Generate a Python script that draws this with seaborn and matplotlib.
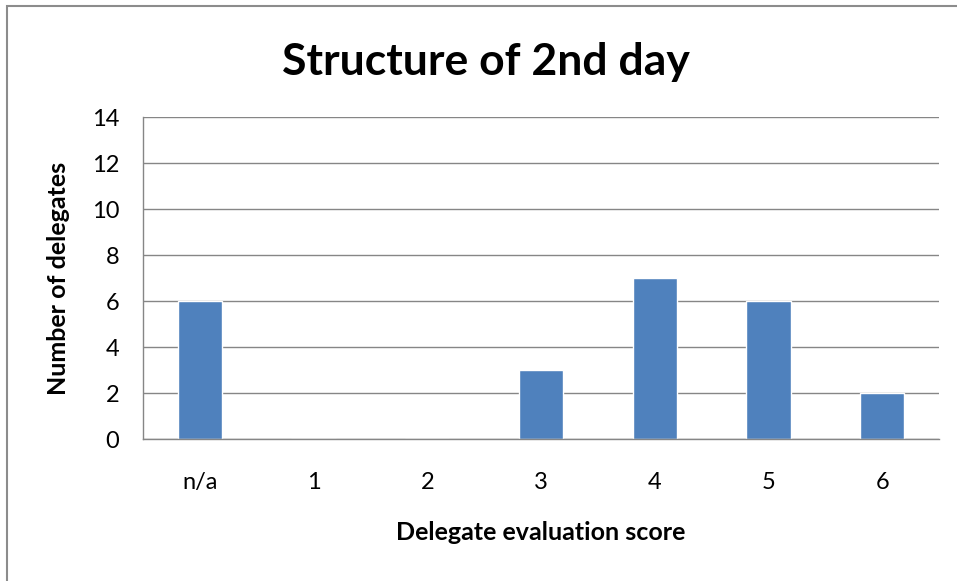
import matplotlib
matplotlib.use("Agg")
import matplotlib.pyplot as plt
import matplotlib.patches as mpatches
import numpy as np
import pandas as pd
import seaborn as sns

# chart data
scores = ["n/a", "1", "2", "3", "4", "5", "6"]
delegates = [6, 0, 0, 3, 7, 6, 2]
y_ticks = [0, 2, 4, 6, 8, 10, 12, 14]

df = pd.DataFrame({"score": scores, "count": delegates})

sns.set_style("white")
plt.rcParams["font.family"] = ["Lato", "DejaVu Sans"]
plt.rcParams["text.color"] = "black"
plt.rcParams["axes.labelcolor"] = "black"

fig = plt.figure(figsize=(9.57, 5.81), dpi=100)
ax = fig.add_axes([0.1494, 0.2444, 0.8318, 0.5542])

sns.barplot(data=df, x="score", y="count", color="#4F81BD", saturation=1,
            width=0.39, ax=ax)

ax.set_ylim(0, 14)
ax.set_xlim(-0.5, len(scores) - 0.5)
ax.set_yticks(y_ticks)
ax.set_yticklabels([str(t) for t in y_ticks], fontsize=17)
ax.set_xticks(range(len(scores)))
ax.set_xticklabels(scores, fontsize=17)
ax.set_xticks(np.arange(-0.5, len(scores)), minor=True)
ax.tick_params(axis="x", which="major", length=0, pad=24, labelcolor="black")
ax.tick_params(axis="x", which="minor", length=6, color="#868686", width=1, direction="out")
ax.tick_params(axis="y", which="major", length=6, color="#868686", width=1, direction="out",
               pad=11, labelcolor="black")
ax.yaxis.grid(True, color="#868686", linewidth=1)
ax.set_axisbelow(True)

for s in ["top", "right"]:
    ax.spines[s].set_visible(False)
for s in ["left", "bottom"]:
    ax.spines[s].set_color("#868686")
    ax.spines[s].set_linewidth(1)

ax.set_xlabel("Delegate evaluation score", fontsize=18, fontweight="bold", labelpad=20)
ax.set_ylabel("Number of delegates", fontsize=18, fontweight="bold", labelpad=16)
fig.text(0.508, (581 - 75) / 581, "Structure of 2nd day", fontsize=32, fontweight="bold",
         ha="center", va="baseline")

# outer chart frame
fig.patches.append(mpatches.Rectangle((7 / 957, -0.05), 1.2, 1 - 6 / 581 + 0.05,
                                      transform=fig.transFigure, fill=False,
                                      edgecolor="#8c8c8c", linewidth=1.5))

fig.savefig("out.png", dpi=100)
